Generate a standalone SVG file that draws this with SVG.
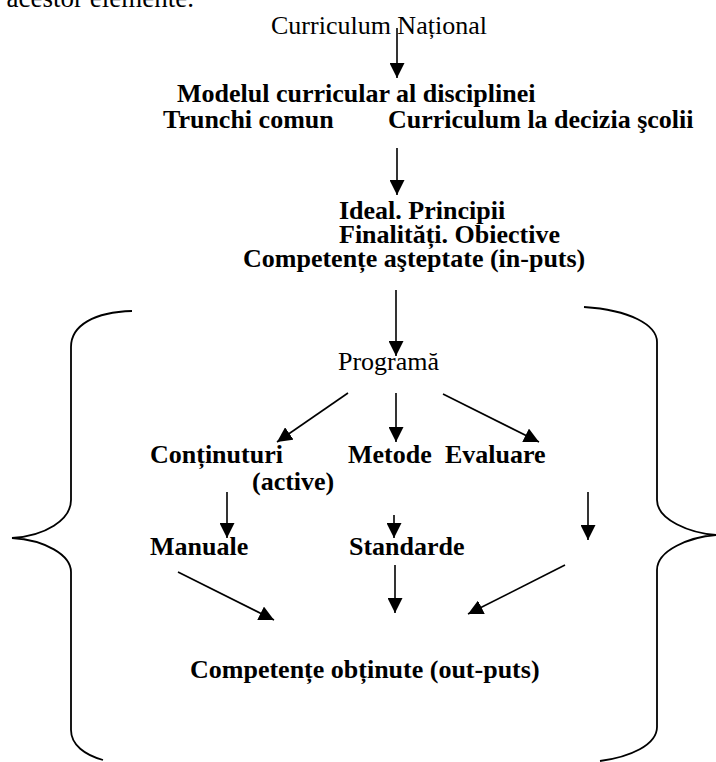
<svg xmlns="http://www.w3.org/2000/svg" width="716" height="762" viewBox="0 0 716 762">
<style>
text{font-family:"Liberation Serif","Times New Roman",serif;font-size:26px;fill:#000}
.b{font-weight:bold}
.c{stroke:#000;stroke-width:1.6;fill:none}
.br{stroke:#000;stroke-width:1.8;fill:none}
</style>
<defs>
<marker id="ah" markerUnits="userSpaceOnUse" viewBox="0 0 15 15" refX="15" refY="7.5" markerWidth="15" markerHeight="15" orient="auto">
<path d="M0,0 L15,7.5 L0,15 z" fill="#000"/>
</marker>
</defs>
<rect width="716" height="762" fill="#fff"/>
<text x="194" y="7" text-anchor="end" style="font-size:27px">acestor elemente.</text>
<g id="braces">
<path class="br" d="M132,311 C95,312 71,325 71,347 L71,500 C71,520 45,536 12,538 C45,540 71,555 71,572 L71,730 C71,745 85,755 103,760"/>
<path class="br" d="M584,307 C630,310 657,325 657,342 L657,500 C657,520 690,533 716,535 C690,537 657,550 657,570 L657,727 C657,745 630,757 600,761"/>
</g>
<g id="connectors">
<line class="c" x1="397" y1="28" x2="397" y2="78" marker-end="url(#ah)"/>
<line class="c" x1="397" y1="148" x2="397" y2="195" marker-end="url(#ah)"/>
<line class="c" x1="396" y1="290" x2="396" y2="356" marker-end="url(#ah)"/>
<line class="c" x1="348" y1="393" x2="277" y2="442" marker-end="url(#ah)"/>
<line class="c" x1="396" y1="393" x2="396" y2="442" marker-end="url(#ah)"/>
<line class="c" x1="443" y1="394" x2="539" y2="442" marker-end="url(#ah)"/>
<line class="c" x1="227" y1="492" x2="227" y2="538" marker-end="url(#ah)"/>
<line class="c" x1="394" y1="515" x2="394" y2="538" marker-end="url(#ah)"/>
<line class="c" x1="588" y1="492" x2="588" y2="540" marker-end="url(#ah)"/>
<line class="c" x1="178" y1="572" x2="274" y2="620" marker-end="url(#ah)"/>
<line class="c" x1="395" y1="565" x2="395" y2="613" marker-end="url(#ah)"/>
<line class="c" x1="565" y1="565" x2="468" y2="614" marker-end="url(#ah)"/>
</g>
<g id="curriculum-national"><text x="271" y="34">Curriculum Național</text></g>
<g id="modelul"><text class="b" x="177" y="102">Modelul curricular al disciplinei</text></g>
<g id="trunchi"><text class="b" x="163" y="128">Trunchi comun</text></g>
<g id="cds"><text class="b" x="388" y="128">Curriculum la decizia şcolii</text></g>
<g id="ideal">
<text class="b" x="339" y="219">Ideal. Principii</text>
<text class="b" x="339" y="243">Finalități. Obiective</text>
<text class="b" x="243" y="267">Competențe aşteptate (in-puts)</text>
</g>
<g id="programa"><text x="338" y="370">Programă</text></g>
<g id="continuturi"><text class="b" x="150" y="463">Conținuturi</text></g>
<g id="metode"><text class="b" x="348" y="463">Metode</text><text class="b" x="252" y="490">(active)</text></g>
<g id="evaluare"><text class="b" x="445" y="463">Evaluare</text></g>
<g id="manuale"><text class="b" x="150" y="555">Manuale</text></g>
<g id="standarde"><text class="b" x="349" y="555">Standarde</text></g>
<g id="competente-obtinute"><text class="b" x="190" y="678">Competențe obținute (out-puts)</text></g>
</svg>
